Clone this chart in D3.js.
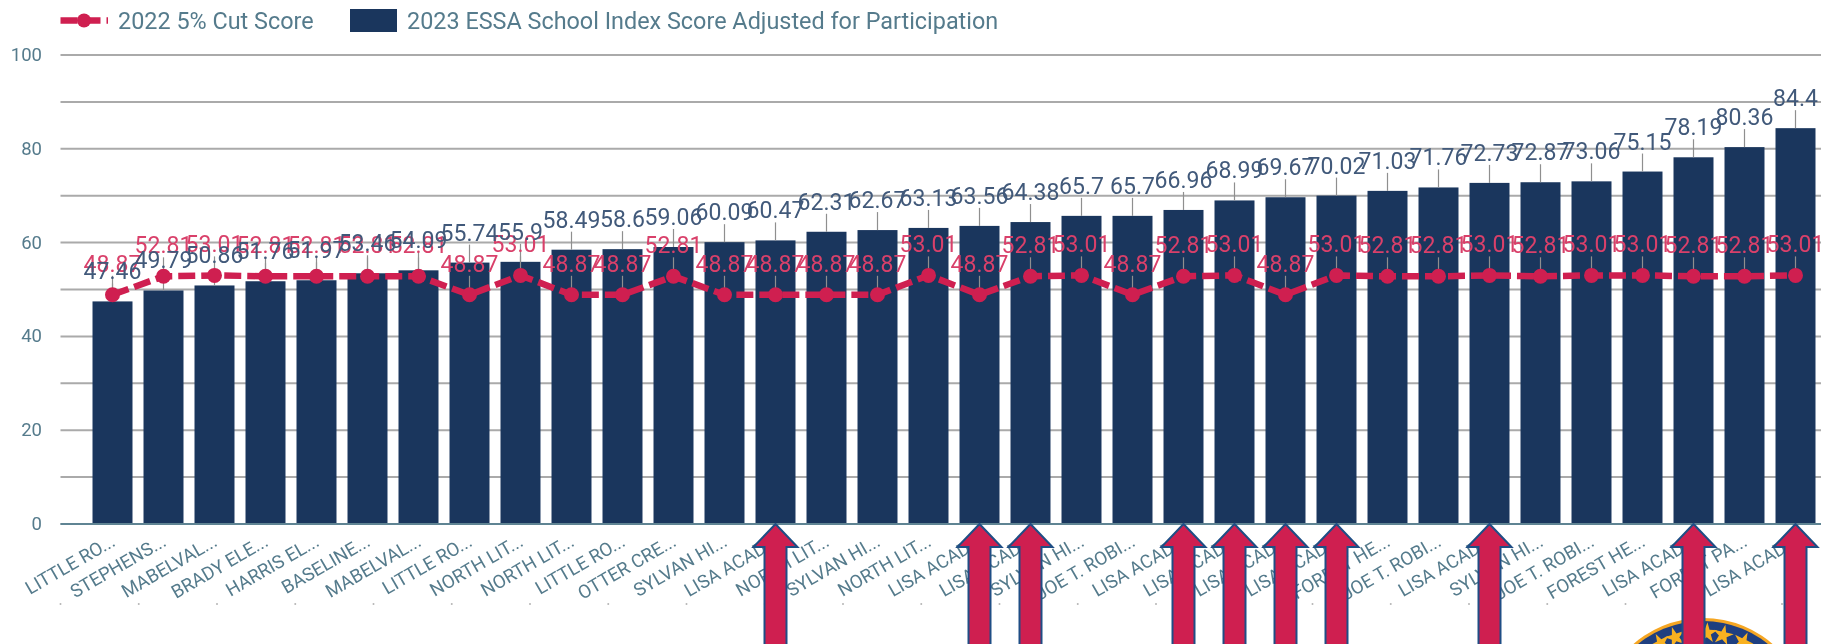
<!DOCTYPE html>
<html><head><meta charset="utf-8">
<script src="https://cdn.jsdelivr.net/npm/d3@7"></script>
<style>
html,body{margin:0;padding:0;background:#fff;overflow:hidden}
svg{display:block;filter:blur(0.7px);font-family:Roboto,sans-serif}
</style></head><body>
<div id="chart"></div>
<script>
const categories=["LITTLE RO...","STEPHENS...","MABELVAL...","BRADY ELE...","HARRIS EL...","BASELINE...","MABELVAL...","LITTLE RO...","NORTH LIT...","NORTH LIT...","LITTLE RO...","OTTER CRE...","SYLVAN HI...","LISA ACAD...","NORTH LIT...","SYLVAN HI...","NORTH LIT...","LISA ACAD...","LISA ACAD...","SYLVAN HI...","JOE T. ROBI...","LISA ACAD...","LISA ACAD...","LISA ACAD...","LISA ACAD...","FOREST HE...","JOE T. ROBI...","LISA ACAD...","SYLVAN HI...","JOE T. ROBI...","FOREST HE...","LISA ACAD...","FOREST PA...","LISA ACAD..."];
const scores=[47.46,49.79,50.86,51.76,51.97,53.46,54.09,55.74,55.9,58.49,58.6,59.06,60.09,60.47,62.31,62.67,63.13,63.56,64.38,65.7,65.7,66.96,68.99,69.67,70.02,71.03,71.76,72.73,72.87,73.06,75.15,78.19,80.36,84.4];
const cutScores=[48.87,52.81,53.01,52.81,52.81,52.81,52.81,48.87,53.01,48.87,48.87,52.81,48.87,48.87,48.87,48.87,53.01,48.87,52.81,53.01,48.87,52.81,53.01,48.87,53.01,52.81,52.81,53.01,52.81,53.01,53.01,52.81,52.81,53.01];
const yTickLabels=[0,20,40,60,80,100];
const gridValues=[0,10,20,30,40,50,60,70,80,90,100];
const seriesNames=["2022 5% Cut Score","2023 ESSA School Index Score Adjusted for Participation"];
const markerPrefix="LISA";
const sealStarAngles=[-27.7,-17.8,2.5,12.7,26];

const W=1825,H=644;
const NAVY="#1a365d",RED="#cf1f50",LABELRED="#d9406a",AXISTXT="#557b8c",VALTXT="#41597a",GRID="#aaaaaa";
const svg=d3.select("#chart").append("svg").attr("width",W).attr("height",H);
const x=d3.scaleBand().domain(d3.range(categories.length)).range([87,1821]).paddingInner(0.216).paddingOuter(0.108);
const y=d3.scaleLinear().domain([0,100]).range([524,55]);
const cx=i=>x(i)+x.bandwidth()/2;

// grid
svg.append("g").selectAll("line").data(gridValues).join("line")
  .attr("x1",60.5).attr("x2",1821).attr("y1",d=>y(d)).attr("y2",d=>y(d))
  .attr("stroke",GRID).attr("stroke-width",2);

// y axis
const yAxis=svg.append("g").attr("transform","translate(60,0)")
  .call(d3.axisLeft(y).tickValues(yTickLabels).tickSize(0).tickPadding(18));
yAxis.select(".domain").remove();
yAxis.selectAll("text").attr("font-size",18.5).attr("font-family","Roboto,sans-serif").attr("fill",AXISTXT).attr("dy","0.3em");

// faint tick dots
svg.append("g").selectAll("circle").data(d3.range(23)).join("circle")
  .attr("cx",i=>60.5+78.25*i).attr("cy",604).attr("r",1).attr("fill","#b5b5b5");

// seal (decorative, under arrows)
const seal=svg.append("g").attr("transform","translate(1703,724)");
seal.append("circle").attr("r",106).attr("fill","#f5a623");
seal.append("circle").attr("r",103).attr("fill","#1f3f80");
seal.selectAll("path").data(sealStarAngles).join("path")
  .attr("d",d3.symbol(d3.symbolStar,130))
  .attr("fill","#f9b120")
  .attr("transform",a=>`rotate(${a}) translate(0,-91)`);

// bars
svg.append("g").selectAll("rect").data(scores).join("rect")
  .attr("x",(d,i)=>x(i)).attr("width",x.bandwidth())
  .attr("y",d=>y(d)).attr("height",d=>y(0)-y(d)).attr("fill",NAVY);

// baseline
svg.append("line").attr("x1",60.5).attr("x2",1821).attr("y1",y(0)).attr("y2",y(0))
  .attr("stroke","#5f8493").attr("stroke-width",2);

// x axis labels
const xAxis=svg.append("g").attr("transform","translate(0,524)")
  .call(d3.axisBottom(x).tickSize(0).tickFormat(i=>categories[i]));
xAxis.select(".domain").remove();
xAxis.selectAll("text")
  .attr("font-size",18.5).attr("font-family","Roboto,sans-serif").attr("fill",AXISTXT)
  .attr("text-anchor","end").attr("dy",0).attr("y",0)
  .attr("transform","translate(4,21) rotate(-30)");

// leaders
const leaders=svg.append("g").attr("stroke","#8f8f8f").attr("stroke-width",1.2);
leaders.selectAll("line.a").data(scores).join("line").attr("class","a")
  .attr("x1",(d,i)=>cx(i)).attr("x2",(d,i)=>cx(i)).attr("y1",d=>y(d)).attr("y2",d=>y(d)-18);
leaders.selectAll("line.b").data(cutScores).join("line").attr("class","b")
  .attr("x1",(d,i)=>cx(i)).attr("x2",(d,i)=>cx(i)).attr("y1",d=>y(d)).attr("y2",d=>y(d)-19);

// cut labels, then bar labels
svg.append("g").selectAll("text").data(cutScores).join("text")
  .attr("x",(d,i)=>cx(i)).attr("y",d=>y(d)-23).attr("text-anchor","middle")
  .attr("font-size",23).attr("fill",LABELRED).text(d=>d);
svg.append("g").selectAll("text").data(scores).join("text")
  .attr("x",(d,i)=>cx(i)).attr("y",d=>y(d)-22).attr("text-anchor","middle")
  .attr("font-size",23).attr("fill",VALTXT).text(d=>d);

// cut line
svg.append("path").datum(cutScores)
  .attr("d",d3.line().x((d,i)=>cx(i)).y(d=>y(d)))
  .attr("fill","none").attr("stroke",RED).attr("stroke-width",6.5).attr("stroke-dasharray","17 6");
svg.append("g").selectAll("circle").data(cutScores).join("circle")
  .attr("cx",(d,i)=>cx(i)).attr("cy",d=>y(d)).attr("r",7.5).attr("fill",RED);

// arrows
const arrowPath="M0,0 L22,23 L11,23 L11,125 L-11,125 L-11,23 L-22,23 Z";
svg.append("g").selectAll("path")
  .data(categories.map((c,i)=>i).filter(i=>categories[i].startsWith(markerPrefix)))
  .join("path").attr("d",arrowPath)
  .attr("transform",i=>`translate(${cx(i)},${y(0)})`)
  .attr("fill",RED).attr("stroke","#1f4e85").attr("stroke-width",2);

// legend
const lg=svg.append("g");
lg.append("line").attr("x1",60.5).attr("x2",108).attr("y1",20.5).attr("y2",20.5)
  .attr("stroke",RED).attr("stroke-width",6.5).attr("stroke-dasharray","17 6");
lg.append("circle").attr("cx",84).attr("cy",20.5).attr("r",7).attr("fill",RED);
lg.append("text").attr("x",118).attr("y",29).attr("font-size",23.4).attr("fill",AXISTXT).text(seriesNames[0]);
lg.append("rect").attr("x",350).attr("y",9).attr("width",47).attr("height",23).attr("fill",NAVY);
lg.append("text").attr("x",407).attr("y",29).attr("font-size",23.4).attr("fill",AXISTXT).text(seriesNames[1]);
</script>
</body></html>
